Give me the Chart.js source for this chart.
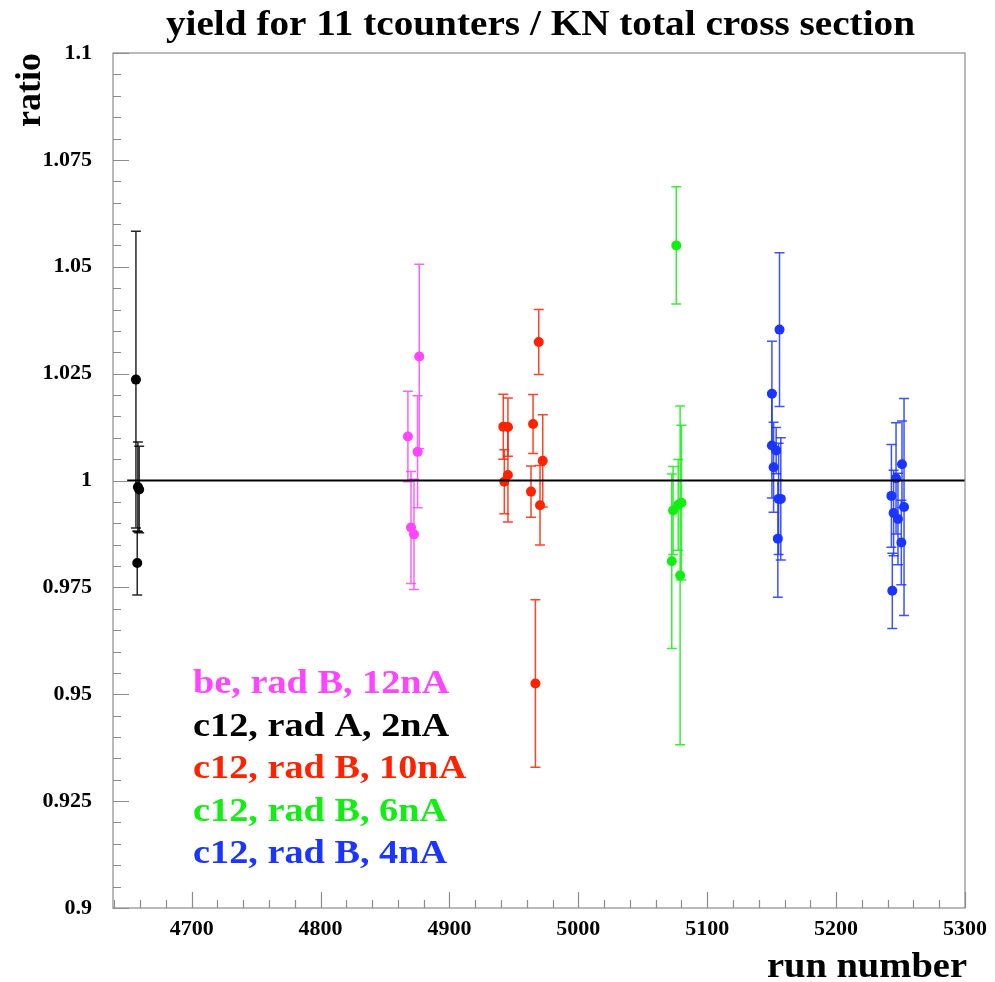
<!DOCTYPE html>
<html><head><meta charset="utf-8">
<script src="https://cdn.jsdelivr.net/npm/chart.js@4.4.1/dist/chart.umd.min.js"></script>
<style>html,body{margin:0;padding:0;background:#fff;} #wrap{width:995px;height:982px;position:relative;}</style>
</head><body><div id="wrap"><canvas id="c"></canvas></div>
<script>
const titleText = 'yield for 11 tcounters / KN total cross section';
const xAxisTitle = 'run number';
const yAxisTitle = 'ratio';
const xTickValues = [4700, 4800, 4900, 5000, 5100, 5200, 5300];
const yTickValues = [0.9, 0.925, 0.95, 0.975, 1, 1.025, 1.05, 1.075, 1.1];
const xRange = [4639, 5300];
const yRange = [0.9, 1.1];
const refLineX = [4650, 5300];
const refLineY = [1, 1];

const seriesNames = ['be, rad B, 12nA', 'c12, rad A, 2nA', 'c12, rad B, 10nA', 'c12, rad B, 6nA', 'c12, rad B, 4nA'];
const seriesColors = ['#ff44ff', '#000000', '#ff2200', '#11ee11', '#1a35ff'];

// be, rad B, 12nA
const beX   = [4867.8, 4870.2, 4872.5, 4875.3, 4876.6];
const beY   = [1.0103, 0.9890, 0.9874, 1.0067, 1.0290];
const beErr = [0.0106, 0.0131, 0.0129, 0.0131, 0.0216];

// c12, rad A, 2nA
const c12aX   = [4656.8, 4658.3, 4659.3, 4657.8];
const c12aY   = [1.0236, 0.9985, 0.9979, 0.9807];
const c12aErr = [0.0347, 0.0105, 0.0101, 0.0075];

// c12, rad B, 10nA
const c12b10X   = [4941.8, 4945.4, 4945.4, 4942.6, 4963.3, 4964.9, 4966.7, 4969.3, 4970.3, 4972.4];
const c12b10Y   = [1.0126, 1.0125, 1.0013, 0.9997, 0.9974, 1.0132, 0.9525, 1.0324, 0.9942, 1.0046];
const c12b10Err = [0.0076, 0.0068, 0.0110, 0.0075, 0.0060, 0.0069, 0.0196, 0.0076, 0.0093, 0.0108];

// c12, rad B, 6nA
const c12b6X   = [5072.5, 5073.5, 5076.0, 5077.5, 5079.0, 5080.0];
const c12b6Y   = [0.9811, 0.9930, 1.0550, 0.9943, 0.9778, 0.9948];
const c12b6Err = [0.0204, 0.0103, 0.0137, 0.0106, 0.0396, 0.0181];

// c12, rad B, 4nA
const c12b4X   = [5150.2, 5150.2, 5151.5, 5153.5, 5154.8, 5155.4, 5156.1, 5157.1,
                  5242.9, 5243.6, 5244.6, 5246.5, 5248.0, 5251.1, 5250.6, 5252.7];
const c12b4Y   = [1.0203, 1.0082, 1.0031, 1.0070, 0.9864, 0.9957, 1.0353, 0.9957,
                  0.9964, 0.9742, 0.9924, 1.0005, 0.9910, 1.0038, 0.9855, 0.9938];
const c12b4Err = [0.0123, 0.0123, 0.0105, 0.0054, 0.0137, 0.0130, 0.0180, 0.0143,
                  0.0120, 0.0088, 0.0100, 0.0130, 0.0107, 0.0101, 0.0099, 0.0254];

const seriesX = [beX, c12aX, c12b10X, c12b6X, c12b4X];
const seriesY = [beY, c12aY, c12b10Y, c12b6Y, c12b4Y];
const seriesErr = [beErr, c12aErr, c12b10Err, c12b6Err, c12b4Err];

const serif = "'Liberation Serif', 'Times New Roman', serif";

const datasets = [{
  type: 'line',
  label: 'ref',
  data: refLineX.map((x, i) => ({x: x, y: refLineY[i]})),
  borderColor: '#000',
  borderWidth: 2,
  pointRadius: 0,
  showLine: true,
  fill: false
}];
seriesNames.forEach((name, s) => {
  datasets.push({
    label: name,
    data: seriesX[s].map((x, i) => ({x: x, y: seriesY[s][i]})),
    errors: seriesErr[s],
    backgroundColor: seriesColors[s],
    borderColor: seriesColors[s],
    borderWidth: 0,
    pointRadius: 5,
    pointHoverRadius: 5
  });
});

const rootStyle = {
  id: 'rootStyle',
  beforeDatasetsDraw(chart) {
    const ctx = chart.ctx, xs = chart.scales.x, ys = chart.scales.y;
    ctx.save();
    chart.data.datasets.forEach(ds => {
      if (!ds.errors) return;
      ctx.strokeStyle = ds.borderColor;
      ctx.globalAlpha = 0.85;
      ctx.lineWidth = 1.5;
      ds.data.forEach((p, i) => {
        const e = ds.errors[i];
        const px = xs.getPixelForValue(p.x);
        const yt = ys.getPixelForValue(p.y + e);
        const yb = ys.getPixelForValue(p.y - e);
        ctx.beginPath();
        ctx.moveTo(px, yt); ctx.lineTo(px, yb);
        ctx.moveTo(px - 5, yt); ctx.lineTo(px + 5, yt);
        ctx.moveTo(px - 5, yb); ctx.lineTo(px + 5, yb);
        ctx.stroke();
      });
    });
    ctx.restore();
  },
  afterDraw(chart) {
    const ctx = chart.ctx, a = chart.chartArea, xs = chart.scales.x, ys = chart.scales.y;
    ctx.save();
    // frame
    ctx.strokeStyle = '#8c8c8c';
    ctx.lineWidth = 1.2;
    ctx.strokeRect(a.left, a.top, a.right - a.left, a.bottom - a.top);
    // x ticks (inside)
    ctx.beginPath();
    for (let v = 4640; v <= xRange[1]; v += 20) {
      const px = Math.round(xs.getPixelForValue(v)) + 0.5;
      const len = (v % 100 === 0) ? 16 : 8;
      ctx.moveTo(px, a.bottom); ctx.lineTo(px, a.bottom - len);
    }
    // y ticks (inside)
    for (let k = 0; k <= 40; k++) {
      const v = yRange[0] + k * 0.005;
      const py = Math.round(ys.getPixelForValue(v)) + 0.5;
      const len = (k % 5 === 0) ? 16 : 8;
      ctx.moveTo(a.left, py); ctx.lineTo(a.left + len, py);
    }
    ctx.stroke();

    ctx.fillStyle = '#000';
    ctx.textBaseline = 'alphabetic';
    // title
    ctx.save();
    ctx.font = 'bold 36px ' + serif;
    ctx.textAlign = 'right';
    ctx.translate(915, 35);
    ctx.scale(1.09, 1);
    ctx.fillText(titleText, 0, 0);
    ctx.restore();
    // x axis title
    ctx.save();
    ctx.font = 'bold 36px ' + serif;
    ctx.textAlign = 'right';
    ctx.translate(967, 977);
    ctx.scale(1.07, 1);
    ctx.fillText(xAxisTitle, 0, 0);
    ctx.restore();
    // y axis title
    ctx.save();
    ctx.font = 'bold 36px ' + serif;
    ctx.textAlign = 'right';
    ctx.translate(40, 53);
    ctx.rotate(-Math.PI / 2);
    ctx.fillText(yAxisTitle, 0, 0);
    ctx.restore();
    // legend texts
    const baselines = [693, 736, 778, 821, 863];
    seriesNames.forEach((name, s) => {
      ctx.save();
      ctx.font = 'bold 33px ' + serif;
      ctx.textAlign = 'left';
      ctx.fillStyle = seriesColors[s];
      ctx.translate(193, baselines[s]);
      ctx.scale(1.16, 1);
      ctx.fillText(name, 0, 0);
      ctx.restore();
    });
    ctx.restore();
  }
};

new Chart(document.getElementById('c'), {
  type: 'scatter',
  data: {datasets: datasets},
  options: {
    responsive: true,
    maintainAspectRatio: false,
    animation: false,
    events: [],
    layout: {padding: {top: 53, right: 27, left: 0, bottom: 0}},
    plugins: {legend: {display: false}, tooltip: {enabled: false}, title: {display: false}},
    scales: {
      x: {
        type: 'linear', min: xRange[0], max: xRange[1],
        afterBuildTicks: s => { s.ticks = xTickValues.map(v => ({value: v})); },
        afterFit: s => { s.height = 74; },
        grid: {display: false, drawTicks: false},
        border: {display: false},
        ticks: {autoSkip: false, maxRotation: 0, padding: 8, color: '#000',
                font: {family: serif, weight: 'bold', size: 22},
                callback: v => String(v)}
      },
      y: {
        type: 'linear', min: yRange[0], max: yRange[1],
        afterBuildTicks: s => { s.ticks = yTickValues.map(v => ({value: v})); },
        afterFit: s => { s.width = 113; },
        grid: {display: false, drawTicks: false},
        border: {display: false},
        ticks: {autoSkip: false, padding: 21, color: '#000',
                font: {family: serif, weight: 'bold', size: 22},
                callback: v => String(+Number(v).toFixed(3))}
      }
    }
  },
  plugins: [rootStyle]
});
</script>
</body></html>
